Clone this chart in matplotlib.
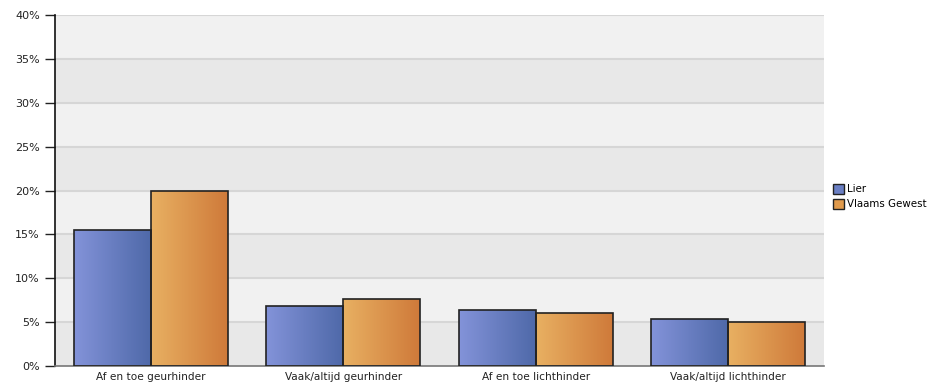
import matplotlib.pyplot as plt
import numpy as np
from matplotlib.colors import LinearSegmentedColormap
from matplotlib.patches import Patch
from matplotlib.ticker import PercentFormatter

categories = ['Af en toe geurhinder', 'Vaak/altijd geurhinder',
              'Af en toe lichthinder', 'Vaak/altijd lichthinder']
lier = [15.5, 6.8, 6.4, 5.3]
vlaams = [20.0, 7.6, 6.0, 5.0]
series_names = ['Lier', 'Vlaams Gewest']

fig = plt.figure(figsize=(9.34, 3.83), dpi=100)
ax = fig.add_axes([0.0589, 0.0444, 0.8233, 0.9164])

ymax = 40
# alternating background bands
for k, lo in enumerate(range(0, ymax, 5)):
    c = '#e8e8e8' if k % 2 == 0 else '#f1f1f1'
    ax.axhspan(lo, lo + 5, color=c, zorder=0, lw=0)
for y in range(5, ymax + 1, 5):
    ax.axhline(y, color='#d6d6d6', lw=1.5, zorder=1)

blue = LinearSegmentedColormap.from_list('b', ['#8393d9', '#4f69a9'])
orange = LinearSegmentedColormap.from_list('o', ['#e8b062', '#cf7a3a'])
grad = np.linspace(0, 1, 100).reshape(1, -1)

x = np.arange(len(categories))
w = 0.4
for vals, off, cmap in [(lier, -w / 2, blue), (vlaams, w / 2, orange)]:
    bars = ax.bar(x + off, vals, w, color='none', edgecolor='#222222', lw=1.2, zorder=3)
    for b in bars:
        x0 = b.get_x()
        im = ax.imshow(grad, cmap=cmap, aspect='auto', zorder=2,
                       extent=[x0, x0 + b.get_width(), 0, b.get_height()])
        im.set_clip_path(b)

ax.set_xlim(-0.5, len(categories) - 0.5)
ax.set_ylim(0, ymax)
ax.set_yticks(range(0, ymax + 1, 5))
ax.yaxis.set_major_formatter(PercentFormatter(decimals=0))
ax.set_xticks(x)
ax.set_xticklabels(categories)
ax.tick_params(axis='x', length=0, pad=4, labelsize=7.6, colors='#222222')
ax.tick_params(axis='y', length=7, width=1, pad=4, labelsize=8, colors='#222222')

for s in ['top', 'right']:
    ax.spines[s].set_visible(False)
ax.spines['left'].set_color('#111111')
ax.spines['left'].set_linewidth(1.2)
ax.spines['bottom'].set_color('#777777')
ax.spines['bottom'].set_linewidth(1.2)

handles = [Patch(facecolor='#6a7fc4', edgecolor='#222222', label=series_names[0]),
           Patch(facecolor='#e09a4c', edgecolor='#222222', label=series_names[1])]
fig.legend(handles=handles, loc='center left', bbox_to_anchor=(0.886, 0.487),
           frameon=False, fontsize=7.4, handlelength=1.1, handleheight=1.1,
           handletextpad=0.3, labelspacing=0.45, borderpad=0)

fig.savefig('out.png', dpi=100)
